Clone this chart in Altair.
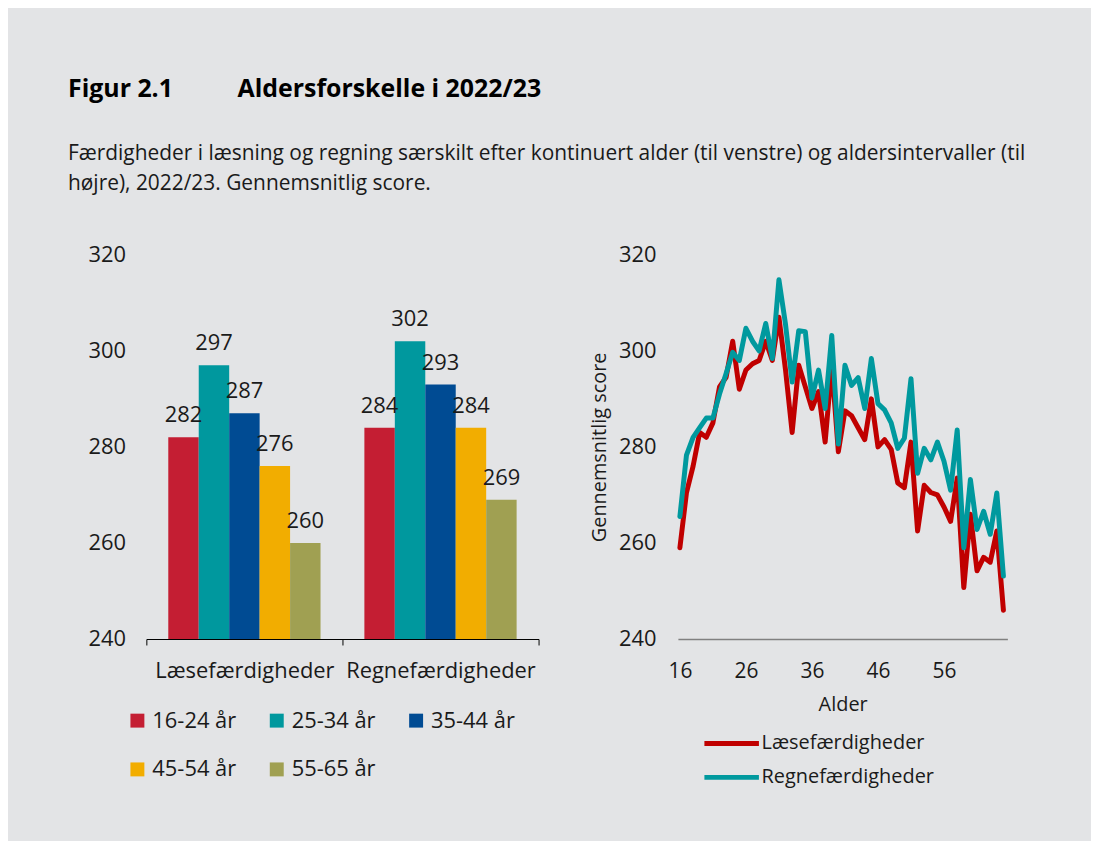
import altair as alt
import pandas as pd

FONT = "Open Sans"
TXT = "#1a1a1a"

# ---------------- data ----------------
skills = ["Læsefærdigheder", "Regnefærdigheder"]
age_groups = ["16-24 år", "25-34 år", "35-44 år", "45-54 år", "55-65 år"]
laese_bar = [282, 297, 287, 276, 260]
regne_bar = [284, 302, 293, 284, 269]
group_colors = ["#C41E33", "#00989E", "#004B93", "#F2AD00", "#A0A052"]

ages = list(range(16, 66))
laese_line = [259, 270.5, 276, 283, 282, 285, 292.5, 294.5, 302, 292,
              296, 297.3, 298, 302, 298, 307, 296, 283, 297, 292.5,
              288, 291.5, 281, 297, 279, 287.5, 286.5, 284, 281.5, 290,
              280, 281.5, 279.5, 272.5, 271.5, 281, 262.5, 272, 270.5, 270,
              267.5, 264.5, 273.5, 250.7, 266, 254.2, 257, 256, 262.5, 246]
regne_line = [265.5, 278.3, 282, 284, 286, 286, 291, 295.3, 299.7, 298,
              304.7, 302, 300, 305.7, 298.4, 314.8, 305.5, 293.5, 304.2, 304,
              290.2, 296, 288, 303.2, 280.6, 297, 292.8, 294.4, 288, 298.4,
              289, 287.7, 285, 279.7, 281.8, 294.2, 274.5, 279.7, 277.3, 281,
              277, 271, 283.5, 259, 273.2, 262.8, 266.6, 261.8, 270.4, 253.1]
line_colors = ["#C00000", "#00999E"]

y_ticks = [240, 260, 280, 300, 320]
x_ticks = [16, 26, 36, 46, 56]

title_text = "Figur 2.1" + "\u00a0" * 10 + "Aldersforskelle i 2022/23"
subtitle_lines = [
    "Færdigheder i læsning og regning særskilt efter kontinuert alder (til venstre) og aldersintervaller (til",
    "højre), 2022/23. Gennemsnitlig score.",
]

# ---------------- bar chart ----------------
bar_df = pd.DataFrame({
    "skill": [s for s in skills for _ in age_groups],
    "group": age_groups * 2,
    "score": laese_bar + regne_bar,
})

ysc = alt.Scale(domain=[240, 320], zero=False, nice=False)

xb = alt.X("skill:N", sort=skills,
           scale=alt.Scale(paddingInner=0, paddingOuter=0),
           axis=alt.Axis(title=None, labelAngle=0, tickBand="extent", ticks=True,
                         tickSize=6, domainColor="#000000", tickColor="#000000",
                         domainWidth=1.2, labelFontSize=22, labelPadding=16,
                         labelLimit=400, labelColor=TXT, labelFont=FONT))
xo = alt.XOffset("group:N", sort=age_groups,
                 scale=alt.Scale(paddingInner=0, paddingOuter=0.72))

bars = alt.Chart(bar_df).mark_bar().encode(
    x=xb, xOffset=xo,
    y=alt.Y("score:Q", scale=ysc,
            axis=alt.Axis(values=y_ticks, title=None, domain=False, ticks=False,
                          grid=False, labelFontSize=22, labelPadding=21,
                          labelColor=TXT, labelFont=FONT)),
    y2=alt.datum(240),
    color=alt.Color("group:N", sort=age_groups,
                    scale=alt.Scale(domain=age_groups, range=group_colors),
                    legend=alt.Legend(title=None, orient="none", legendX=-20, legendY=457,
                                      columns=3, direction="horizontal",
                                      symbolType="square", symbolSize=196,
                                      symbolStrokeWidth=0, labelFontSize=22, labelFont=FONT,
                                      labelColor=TXT, columnPadding=29, rowPadding=27,
                                      labelOffset=4, labelLimit=400, padding=0,
                                      gridAlign="all")),
)

labels = alt.Chart(bar_df).mark_text(baseline="bottom", dy=-10, fontSize=22, font=FONT,
                                     color=TXT).encode(
    x=alt.X("skill:N", sort=skills), xOffset=alt.XOffset("group:N", sort=age_groups),
    y=alt.Y("score:Q"), text=alt.Text("score:Q"),
)

bar_chart = alt.layer(bars, labels).properties(width=394, height=386)

# ---------------- line chart ----------------
line_df = pd.DataFrame({
    "age": ages * 2,
    "score": laese_line + regne_line,
    "skill": [skills[0]] * len(ages) + [skills[1]] * len(ages),
})

line_chart = alt.Chart(line_df).mark_line(strokeWidth=5, strokeCap="round",
                                          strokeJoin="round").encode(
    x=alt.X("age:Q", scale=alt.Scale(domain=[15.7, 65.6], nice=False, zero=False),
            axis=alt.Axis(values=x_ticks, title="Alder", grid=False, ticks=False,
                          domainColor="#808080", domainWidth=1.5, labelPadding=22,
                          labelFontSize=21, titleFontSize=20, titleFontWeight="normal",
                          titlePadding=13, labelColor=TXT, titleColor=TXT,
                          labelFont=FONT, titleFont=FONT)),
    y=alt.Y("score:Q", scale=ysc,
            axis=alt.Axis(values=y_ticks, title="Gennemsnitlig score", domain=False,
                          ticks=False, grid=False, labelFontSize=22, labelPadding=22,
                          titleFontSize=20, titleFontWeight="normal", titlePadding=9,
                          labelColor=TXT, titleColor=TXT, labelFont=FONT, titleFont=FONT)),
    color=alt.Color("skill:N", sort=skills,
                    scale=alt.Scale(domain=skills, range=line_colors),
                    legend=alt.Legend(title=None, orient="none", legendX=24, legendY=481,
                                      symbolType="stroke", symbolSize=3000,
                                      symbolStrokeWidth=5, labelFontSize=20,
                                      labelFont=FONT, labelColor=TXT, labelOffset=0,
                                      labelLimit=400, clipHeight=20, rowPadding=14,
                                      padding=0)),
    order=alt.Order("skill:N"),
).properties(width=331, height=386)

chart = alt.hconcat(bar_chart, line_chart, spacing=50).resolve_scale(
    color="independent"
).properties(
    title=alt.TitleParams(text=title_text, subtitle=subtitle_lines, anchor="start",
                          font=FONT, fontSize=25, fontWeight="bold", color="#000000",
                          subtitleFont=FONT, subtitleFontSize=21, subtitleColor=TXT,
                          subtitlePadding=42, subtitleLineHeight=30, offset=50, dx=-20),
    padding={"left": 60, "top": 67, "right": 65, "bottom": 52},
    background="#E3E4E6",
).configure_view(stroke=None)

chart.save("out.html", embed_options={"renderer": "svg", "actions": False})
